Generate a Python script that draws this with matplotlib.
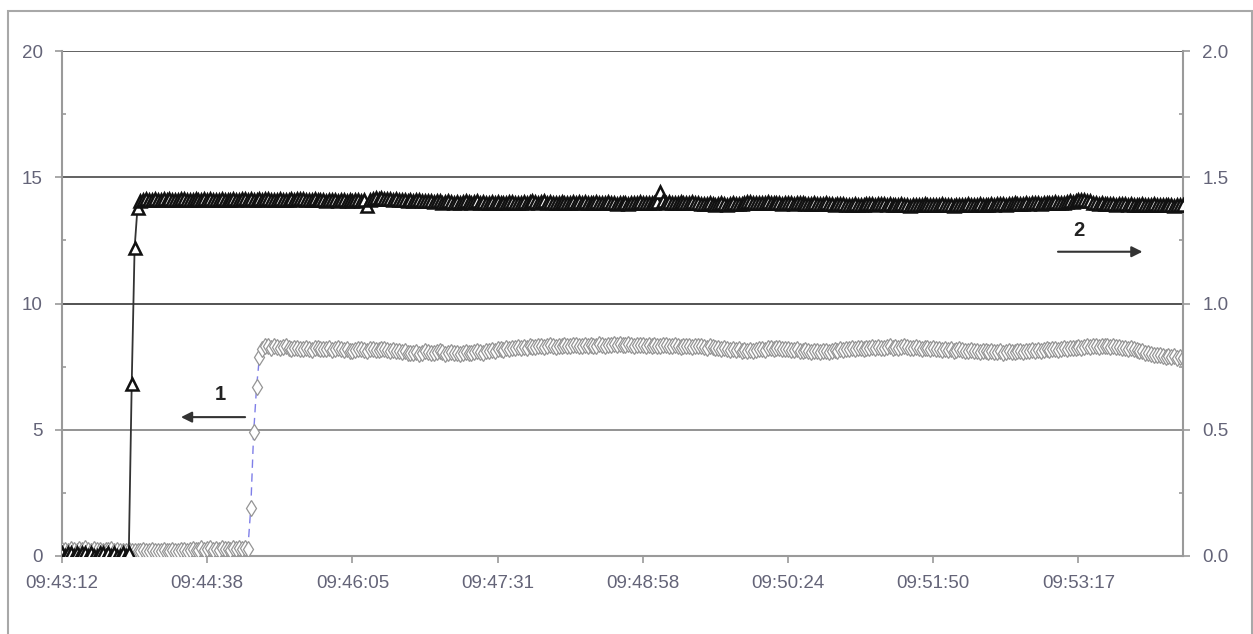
import matplotlib
matplotlib.use('Agg')
import matplotlib.pyplot as plt
from matplotlib.ticker import MultipleLocator, FormatStrFormatter
from matplotlib.patches import Rectangle
import numpy as np

plt.rcParams['font.family'] = ['Liberation Sans', 'DejaVu Sans']

# ── data ─────────────────────────────────────────────────────────
TIME_LABELS = ['09:43:12', '09:44:38', '09:46:05', '09:47:31',
               '09:48:58', '09:50:24', '09:51:50', '09:53:17']
LABEL_EVERY = 50   # one time label every 50 samples

# series 1 (left axis, diamonds)
s1 = [
    0.22, 0.25, 0.2, 0.28, 0.24, 0.2, 0.26, 0.22, 0.3, 0.24, 0.2, 0.26, 0.22, 0.25, 0.2, 0.24, 0.22, 0.27, 0.2, 0.24,
    0.2, 0.18, 0.2, 0.22, 0.2, 0.18, 0.2, 0.2, 0.22, 0.18, 0.2, 0.22, 0.2, 0.2, 0.18, 0.22, 0.2, 0.2, 0.22, 0.2,
    0.2, 0.22, 0.25, 0.2, 0.24, 0.28, 0.22, 0.25, 0.3, 0.24, 0.26, 0.3, 0.25, 0.28, 0.22, 0.3, 0.26, 0.28, 0.25, 0.3,
    0.28, 0.3, 0.26, 0.3, 0.28, 1.9, 4.9, 6.7, 7.9, 8.2, 8.3, 8.32, 8.25, 8.3, 8.28, 8.22, 8.26, 8.3, 8.24, 8.2,
    8.22, 8.25, 8.18, 8.2, 8.24, 8.2, 8.16, 8.22, 8.25, 8.2, 8.18, 8.2, 8.22, 8.16, 8.2, 8.24, 8.18, 8.15, 8.2, 8.12,
    8.1, 8.15, 8.18, 8.2, 8.16, 8.12, 8.18, 8.2, 8.15, 8.14, 8.18, 8.2, 8.16, 8.12, 8.15, 8.1, 8.12, 8.08, 8.1, 8.05,
    8.02, 8.05, 8.08, 8.0, 8.04, 8.1, 8.06, 8.02, 8.05, 8.08, 8.1, 8.06, 8.0, 8.04, 8.08, 8.05, 8.02, 8.0, 8.04, 8.06,
    8.05, 8.02, 8.06, 8.1, 8.08, 8.05, 8.1, 8.12, 8.15, 8.12, 8.18, 8.2, 8.16, 8.22, 8.2, 8.25, 8.22, 8.26, 8.24, 8.28,
    8.25, 8.3, 8.28, 8.26, 8.3, 8.32, 8.28, 8.3, 8.34, 8.3, 8.28, 8.32, 8.3, 8.35, 8.32, 8.3, 8.34, 8.36, 8.32, 8.3,
    8.34, 8.32, 8.36, 8.3, 8.33, 8.38, 8.35, 8.32, 8.36, 8.34, 8.38, 8.35, 8.4, 8.36, 8.34, 8.38, 8.35, 8.32, 8.36, 8.34,
    8.35, 8.32, 8.36, 8.3, 8.34, 8.32, 8.3, 8.34, 8.36, 8.32, 8.3, 8.34, 8.32, 8.28, 8.3, 8.33, 8.3, 8.28, 8.3, 8.32,
    8.3, 8.28, 8.25, 8.3, 8.26, 8.22, 8.25, 8.2, 8.24, 8.2, 8.16, 8.2, 8.15, 8.18, 8.12, 8.15, 8.1, 8.14, 8.12, 8.15,
    8.18, 8.2, 8.16, 8.22, 8.25, 8.2, 8.24, 8.22, 8.2, 8.18, 8.2, 8.16, 8.15, 8.18, 8.12, 8.1, 8.14, 8.1, 8.08, 8.12,
    8.1, 8.06, 8.1, 8.12, 8.08, 8.12, 8.15, 8.12, 8.18, 8.16, 8.2, 8.18, 8.22, 8.2, 8.24, 8.22, 8.2, 8.25, 8.22, 8.26,
    8.24, 8.28, 8.25, 8.22, 8.26, 8.3, 8.25, 8.28, 8.24, 8.26, 8.3, 8.26, 8.22, 8.25, 8.28, 8.24, 8.2, 8.22, 8.25, 8.2,
    8.22, 8.18, 8.2, 8.16, 8.2, 8.15, 8.18, 8.12, 8.15, 8.18, 8.14, 8.1, 8.12, 8.15, 8.1, 8.12, 8.08, 8.1, 8.12, 8.08,
    8.1, 8.06, 8.08, 8.1, 8.05, 8.08, 8.1, 8.06, 8.08, 8.12, 8.1, 8.08, 8.12, 8.1, 8.14, 8.12, 8.15, 8.12, 8.16, 8.18,
    8.15, 8.18, 8.2, 8.16, 8.2, 8.22, 8.2, 8.24, 8.22, 8.25, 8.28, 8.24, 8.28, 8.3, 8.26, 8.3, 8.32, 8.28, 8.3, 8.32,
    8.3, 8.28, 8.3, 8.26, 8.28, 8.24, 8.25, 8.2, 8.22, 8.18, 8.15, 8.12, 8.1, 8.05, 8.02, 8.0, 7.98, 7.95, 7.96, 7.92,
    7.9, 7.94, 7.88, 7.92, 7.86, 7.9, 7.85,
]

# series 2 (right axis, triangles)
s2 = [
    0.01, 0.0, 0.01, 0.01, 0.0, 0.01, 0.0, 0.01, 0.01, 0.0, 0.01, 0.0, 0.0, 0.01, 0.01, 0.0, 0.01, 0.0, 0.01, 0.0,
    0.0, 0.01, 0.0, 0.01, 0.68, 1.22, 1.38, 1.405, 1.41, 1.412, 1.408, 1.41, 1.415, 1.41, 1.408, 1.412, 1.41, 1.414, 1.41, 1.408,
    1.41, 1.412, 1.415, 1.41, 1.408, 1.41, 1.413, 1.41, 1.408, 1.412, 1.41, 1.415, 1.41, 1.408, 1.41, 1.412, 1.41, 1.408, 1.41, 1.412,
    1.41, 1.408, 1.412, 1.415, 1.41, 1.412, 1.408, 1.41, 1.412, 1.41, 1.415, 1.412, 1.41, 1.408, 1.41, 1.413, 1.41, 1.408, 1.41, 1.412,
    1.41, 1.412, 1.415, 1.412, 1.41, 1.408, 1.41, 1.412, 1.41, 1.408, 1.41, 1.406, 1.408, 1.41, 1.408, 1.405, 1.408, 1.41, 1.406, 1.408,
    1.405, 1.408, 1.41, 1.406, 1.408, 1.385, 1.41, 1.415, 1.418, 1.415, 1.416, 1.414, 1.415, 1.412, 1.41, 1.412, 1.41, 1.408, 1.41, 1.406,
    1.408, 1.405, 1.408, 1.41, 1.406, 1.404, 1.406, 1.405, 1.402, 1.405, 1.404, 1.4, 1.402, 1.405, 1.402, 1.4, 1.403, 1.4, 1.402, 1.404,
    1.402, 1.4, 1.403, 1.404, 1.4, 1.402, 1.398, 1.4, 1.402, 1.4, 1.403, 1.4, 1.398, 1.4, 1.403, 1.402, 1.4, 1.398, 1.4, 1.402,
    1.4, 1.403, 1.405, 1.402, 1.4, 1.402, 1.404, 1.4, 1.402, 1.4, 1.398, 1.4, 1.402, 1.4, 1.398, 1.4, 1.402, 1.4, 1.403, 1.4,
    1.402, 1.4, 1.398, 1.4, 1.402, 1.4, 1.398, 1.4, 1.402, 1.4, 1.398, 1.396, 1.398, 1.4, 1.398, 1.396, 1.4, 1.398, 1.4, 1.402,
    1.4, 1.398, 1.4, 1.398, 1.4, 1.402, 1.44, 1.405, 1.4, 1.402, 1.4, 1.398, 1.4, 1.402, 1.4, 1.398, 1.4, 1.402, 1.4, 1.398,
    1.396, 1.394, 1.396, 1.398, 1.394, 1.392, 1.396, 1.398, 1.395, 1.392, 1.395, 1.398, 1.396, 1.394, 1.396, 1.4, 1.403, 1.402, 1.4, 1.398,
    1.4, 1.398, 1.4, 1.402, 1.4, 1.398, 1.4, 1.398, 1.396, 1.398, 1.4, 1.398, 1.396, 1.398, 1.4, 1.398, 1.396, 1.394, 1.396, 1.398,
    1.396, 1.394, 1.396, 1.398, 1.396, 1.394, 1.392, 1.394, 1.396, 1.394, 1.392, 1.39, 1.392, 1.394, 1.392, 1.39, 1.392, 1.394, 1.396, 1.394,
    1.392, 1.394, 1.396, 1.394, 1.392, 1.394, 1.392, 1.39, 1.392, 1.394, 1.392, 1.39, 1.388, 1.39, 1.392, 1.39, 1.392, 1.394, 1.392, 1.39,
    1.392, 1.39, 1.392, 1.394, 1.392, 1.39, 1.392, 1.388, 1.39, 1.392, 1.39, 1.392, 1.394, 1.392, 1.39, 1.392, 1.394, 1.392, 1.39, 1.392,
    1.394, 1.392, 1.394, 1.396, 1.394, 1.392, 1.394, 1.396, 1.398, 1.396, 1.394, 1.396, 1.398, 1.396, 1.398, 1.4, 1.398, 1.396, 1.398, 1.4,
    1.398, 1.4, 1.402, 1.4, 1.398, 1.4, 1.402, 1.404, 1.402, 1.405, 1.408, 1.41, 1.408, 1.406, 1.404, 1.4, 1.398, 1.396, 1.398, 1.396,
    1.394, 1.396, 1.394, 1.392, 1.394, 1.396, 1.394, 1.392, 1.394, 1.392, 1.39, 1.392, 1.394, 1.392, 1.39, 1.392, 1.394, 1.392, 1.39, 1.392,
    1.39, 1.392, 1.39, 1.388, 1.39, 1.392, 1.39,
]

# ── styles ───────────────────────────────────────────────────────
TXT = '#646478'
AXC = '#9a9a9a'
FS = 13.5

W, H = 1253, 634
fig = plt.figure(figsize=(W/100, H/100), dpi=100)
fig.patch.set_facecolor('white')

# outer chart frame
fig.add_artist(Rectangle((8/W, -0.05), (W-9)/W, 1.05 - 11/H,
                         transform=fig.transFigure, fill=False,
                         ec='#a8a8a8', lw=1.5))

ax = fig.add_axes([62/W, 1-556/H, (1183-62)/W, (556-51)/H])
ax2 = ax.twinx()

x1 = np.arange(len(s1))
x2 = np.arange(len(s2))

# gridlines
for v, c in [(5, '#8a8a8a'), (10, '#444444'), (15, '#555555'), (20, '#555555')]:
    ax.axhline(v, color=c, lw=1.3, zorder=1)

ax.plot(x1, s1, ls=(0, (6, 4)), color='#7f7fe8', lw=1.0,
        marker='d', ms=8, mfc='white', mec='#959595', mew=0.9, zorder=3)
ax2.plot(x2, s2, ls='-', color='#333333', lw=1.3,
         marker='^', ms=8, mfc='white', mec='#111111', mew=1.8, zorder=3)

n = len(s1)
ax.set_xlim(0, n - 1)
ax.set_ylim(0, 20)
ax2.set_ylim(0, 2.0)

ax.set_xticks(np.arange(len(TIME_LABELS)) * LABEL_EVERY)
ax.set_xticklabels(TIME_LABELS)

ax.yaxis.set_major_locator(MultipleLocator(5))
ax.yaxis.set_minor_locator(MultipleLocator(2.5))
ax2.yaxis.set_major_locator(MultipleLocator(0.5))
ax2.yaxis.set_minor_locator(MultipleLocator(0.25))
ax2.yaxis.set_major_formatter(FormatStrFormatter('%.1f'))

for a in (ax, ax2):
    for s in a.spines.values():
        s.set_visible(False)
ax.spines['left'].set_visible(True)
ax.spines['bottom'].set_visible(True)
ax2.spines['right'].set_visible(True)
for s in (ax.spines['left'], ax.spines['bottom'], ax2.spines['right']):
    s.set_color(AXC)
    s.set_linewidth(1.5)

ax.tick_params(axis='x', which='major', direction='out', length=5, width=1.2,
               color=AXC, labelsize=FS, labelcolor=TXT, pad=9)
ax.tick_params(axis='y', which='major', direction='out', length=5, width=1.2,
               color=AXC, labelsize=FS, labelcolor=TXT, pad=9)
ax.tick_params(axis='y', which='minor', direction='in', length=3, width=1.2, color=AXC)
ax2.tick_params(axis='y', which='major', direction='out', length=5, width=1.2,
                color=AXC, labelsize=FS, labelcolor=TXT, pad=9)
ax2.tick_params(axis='y', which='minor', direction='in', length=3, width=1.2, color=AXC)

ax.patch.set_visible(False)

# curve markers: 1 -> left axis, 2 -> right axis
ax.annotate('', xy=(40, 5.5), xytext=(64, 5.5),
            arrowprops=dict(arrowstyle='-|>', color='#333333', lw=1.5,
                            mutation_scale=16))
ax.text(54.5, 6.4, '1', ha='center', va='center', fontsize=FS + 1,
        fontweight='bold', color='#222222')
ax.annotate('', xy=(373, 12.05), xytext=(342, 12.05),
            arrowprops=dict(arrowstyle='-|>', color='#333333', lw=1.5,
                            mutation_scale=16))
ax.text(350, 12.9, '2', ha='center', va='center', fontsize=FS + 1,
        fontweight='bold', color='#222222')

fig.savefig('out.png', dpi=100, facecolor='white')
